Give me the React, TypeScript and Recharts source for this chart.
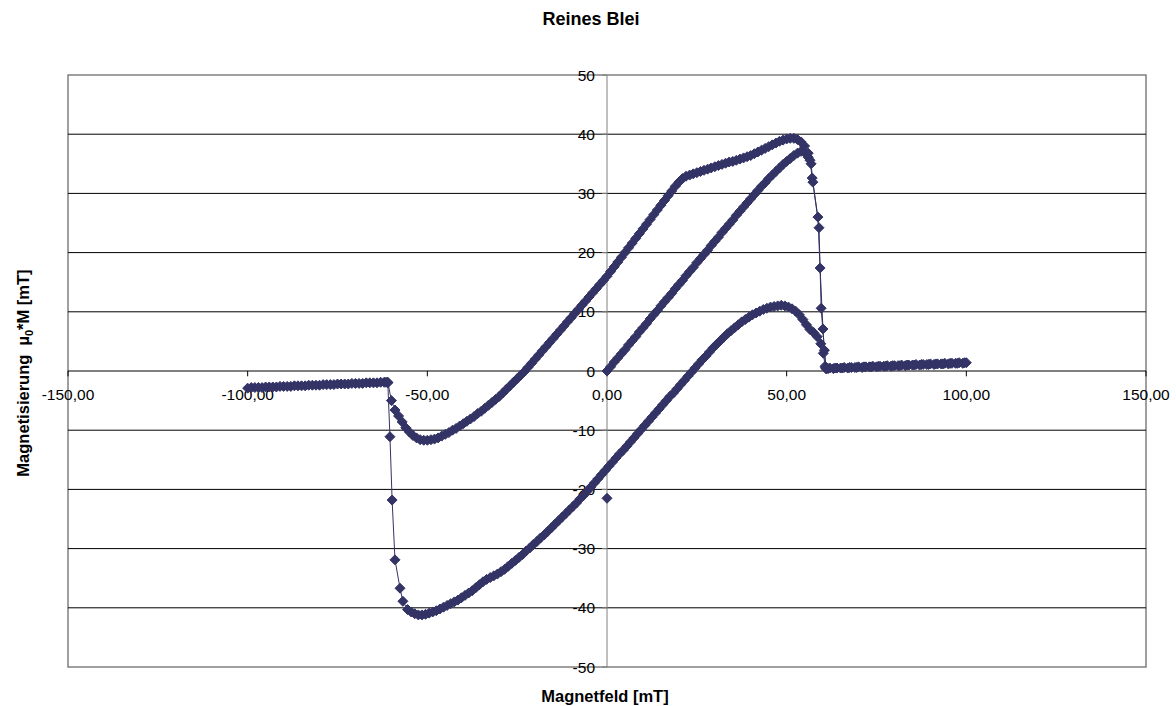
import { ReferenceArea, ReferenceLine, Scatter, ScatterChart, XAxis, YAxis } from "recharts";

const NAVY = "#333366";
const FONT = "'Liberation Sans', Arial, sans-serif";

const X_TICKS = [-150, -100, -50, 0, 50, 100, 150];
const Y_TICKS = [-50, -40, -30, -20, -10, 0, 10, 20, 30, 40, 50];
const Y_GRID = [-40, -30, -20, -10, 10, 20, 30, 40];

// Neukurve 0 -> 61 mT
const VIRGIN: [number, number][] = [
  [0, 0], [1, 0.7], [2, 1.5], [3, 2.2], [4, 2.9], [5, 3.6], [6, 4.4], [7, 5.1], [8, 5.8], [9, 6.6],
  [10, 7.3], [11, 8.0], [12, 8.8], [13, 9.5], [14, 10.2], [15, 11.0], [16, 11.7], [17, 12.4], [18, 13.1], [19, 13.9],
  [20, 14.6], [21, 15.3], [22, 16.1], [23, 16.8], [24, 17.5], [25, 18.3], [26, 19.0], [27, 19.7], [28, 20.4], [29, 21.2],
  [30, 21.9], [31, 22.6], [32, 23.4], [33, 24.1], [34, 24.8], [35, 25.5], [36, 26.3], [37, 27.0], [38, 27.7], [39, 28.4],
  [40, 29.1], [41, 29.8], [42, 30.5], [43, 31.2], [44, 31.8], [45, 32.5], [46, 33.1], [47, 33.7], [48, 34.3], [49, 34.9],
  [50, 35.4], [51, 35.9], [52, 36.4], [53, 36.8], [54, 37.1], [55, 36.9], [56, 36.1], [56.5, 35.6], [57.1, 32.6],
  [58.7, 26.0], [59.3, 17.4], [60.1, 7.1], [60.8, 0.6],
];

const FLAT_UP_1: [number, number][] = [
  [62, 0.5], [64, 0.5], [66, 0.6], [68, 0.6], [70, 0.7], [72, 0.7], [74, 0.8], [76, 0.8], [78, 0.9], [80, 0.9],
  [82, 1.0], [84, 1.0], [86, 1.1], [88, 1.1], [90, 1.2], [92, 1.2], [94, 1.3], [96, 1.3], [98, 1.4], [100, 1.4],
];

const FLAT_DOWN: [number, number][] = [
  [99, 1.3], [97, 1.3], [95, 1.2], [93, 1.2], [91, 1.1], [89, 1.1], [87, 1.0], [85, 1.0], [83, 0.9], [81, 0.9],
  [79, 0.8], [77, 0.8], [75, 0.7], [73, 0.7], [71, 0.6], [69, 0.6], [67, 0.5], [65, 0.5], [63, 0.4], [61, 0.4],
];

// abnehmendes Feld 61 -> -61 mT
const LOWER: [number, number][] = [
  [60.7, 0.8], [60.2, 3.0], [59.5, 4.6], [58.5, 5.8], [57.5, 6.5], [56.5, 7.0], [55.5, 7.8], [54.5, 8.7], [53.5, 9.5],
  [52.5, 10.1], [51.5, 10.5], [50.5, 10.8], [49.5, 11.0], [48.5, 11.1], [47.5, 11.0], [46.5, 10.9], [45.5, 10.8],
  [44.5, 10.6], [43.5, 10.4], [42.5, 10.1], [41.5, 9.8], [40.5, 9.5], [39.5, 9.1], [38.5, 8.7], [37.5, 8.3],
  [36.5, 7.8], [35.5, 7.3], [34.5, 6.8], [33.5, 6.3], [32.5, 5.7], [31.5, 5.1], [30.5, 4.5], [29.5, 3.9],
  [28.5, 3.2], [27.5, 2.5], [26.5, 1.9], [25.5, 1.2], [24.5, 0.5], [23.5, -0.2], [22.5, -0.9], [21.5, -1.6],
  [20.5, -2.3], [19.5, -3.0], [18.5, -3.7], [17.5, -4.3], [16.5, -5.0], [15.5, -5.7], [14.5, -6.4], [13.5, -7.1],
  [12.5, -7.8], [11.5, -8.5], [10.5, -9.2], [9.5, -9.9], [8.5, -10.6], [7.5, -11.3], [6.5, -12.0], [5.5, -12.7],
  [4.5, -13.4], [3.5, -14.0], [2.5, -14.7], [1.5, -15.4], [0.5, -16.1], [-0.5, -16.8], [-1.5, -17.5],
  [-2.5, -18.2], [-3.5, -18.9], [-4.5, -19.6], [-5.5, -20.3], [-6.5, -21.0], [-7.5, -21.6], [-8.5, -22.3],
  [-9.5, -22.9], [-10.5, -23.5], [-11.5, -24.1], [-12.5, -24.7], [-13.5, -25.3], [-14.5, -25.9], [-15.5, -26.5],
  [-16.5, -27.1], [-17.5, -27.7], [-18.5, -28.2], [-19.5, -28.8], [-20.5, -29.3], [-21.5, -29.9], [-22.5, -30.4],
  [-23.5, -31.0], [-24.5, -31.5], [-25.5, -32.0], [-26.5, -32.5], [-27.5, -33.0], [-28.5, -33.5], [-29.5, -33.9],
  [-30.5, -34.3], [-31.5, -34.6], [-32.5, -34.9], [-33.5, -35.2], [-34.5, -35.6], [-35.5, -36.1], [-36.5, -36.6],
  [-37.5, -37.1], [-38.5, -37.5], [-39.5, -37.9], [-40.5, -38.3], [-41.5, -38.7], [-42.5, -39.0], [-43.5, -39.3],
  [-44.5, -39.6], [-45.5, -39.9], [-46.5, -40.2], [-47.5, -40.5], [-48.5, -40.7], [-49.5, -40.9], [-50.5, -41.1],
  [-51.5, -41.2], [-52.5, -41.2], [-53.5, -41.0], [-54.5, -40.7], [-55.5, -40.3], [-56.8, -38.9], [-57.6, -36.7],
  [-59.0, -31.9], [-59.8, -21.8], [-60.4, -11.1], [-61.0, -2.0],
];

const NEG_FLAT_DOWN: [number, number][] = [
  [-62, -1.9], [-64, -2.0], [-66, -2.0], [-68, -2.1], [-70, -2.1], [-72, -2.2], [-74, -2.2], [-76, -2.3],
  [-78, -2.3], [-80, -2.4], [-82, -2.4], [-84, -2.5], [-86, -2.5], [-88, -2.6], [-90, -2.6], [-92, -2.7],
  [-94, -2.7], [-96, -2.8], [-98, -2.8], [-100, -2.9],
];

const NEG_FLAT_UP: [number, number][] = [
  [-99, -2.8], [-97, -2.8], [-95, -2.7], [-93, -2.7], [-91, -2.6], [-89, -2.6], [-87, -2.5], [-85, -2.5],
  [-83, -2.4], [-81, -2.4], [-79, -2.3], [-77, -2.3], [-75, -2.2], [-73, -2.2], [-71, -2.1], [-69, -2.1],
  [-67, -2.0], [-65, -2.0], [-63, -1.9], [-61.5, -1.9],
];

// zunehmendes Feld -61 -> 61 mT
const UPPER: [number, number][] = [
  [-61, -1.9], [-60, -5.0], [-59, -6.6], [-58, -7.6], [-57, -8.6], [-56, -9.6], [-55, -10.3], [-54, -10.9],
  [-53, -11.3], [-52, -11.6], [-51, -11.7], [-50, -11.7], [-49, -11.6], [-48, -11.5], [-47, -11.3], [-46, -11.0],
  [-45, -10.7], [-44, -10.4], [-43, -10.0], [-42, -9.7], [-41, -9.3], [-40, -8.9], [-39, -8.5], [-38, -8.1],
  [-37, -7.7], [-36, -7.2], [-35, -6.8], [-34, -6.3], [-33, -5.8], [-32, -5.3], [-31, -4.8], [-30, -4.3],
  [-29, -3.7], [-28, -3.1], [-27, -2.5], [-26, -1.9], [-25, -1.3], [-24, -0.7], [-23, -0.1], [-22, 0.6],
  [-21, 1.3], [-20, 2.0], [-19, 2.7], [-18, 3.4], [-17, 4.1], [-16, 4.8], [-15, 5.5], [-14, 6.2], [-13, 6.9],
  [-12, 7.6], [-11, 8.3], [-10, 9.0], [-9, 9.7], [-8, 10.4], [-7, 11.1], [-6, 11.8], [-5, 12.5], [-4, 13.2],
  [-3, 13.9], [-2, 14.6], [-1, 15.3], [0, 16.0], [1, 16.8], [2, 17.6], [3, 18.4], [4, 19.2], [5, 20.0],
  [6, 20.8], [7, 21.6], [8, 22.4], [9, 23.2], [10, 24.0], [11, 24.8], [12, 25.6], [13, 26.4], [14, 27.2],
  [15, 28.0], [16, 28.8], [17, 29.6], [18, 30.4], [19, 31.2], [20, 31.9], [21, 32.5], [22, 32.9], [23, 33.1],
  [24, 33.3], [25, 33.5], [26, 33.7], [27, 33.9], [28, 34.1], [29, 34.3], [30, 34.5], [31, 34.7], [32, 34.9],
  [33, 35.1], [34, 35.3], [35, 35.4], [36, 35.6], [37, 35.8], [38, 36.0], [39, 36.2], [40, 36.4], [41, 36.7],
  [42, 37.0], [43, 37.3], [44, 37.6], [45, 37.9], [46, 38.2], [47, 38.5], [48, 38.8], [49, 39.0], [50, 39.2],
  [51, 39.3], [52, 39.3], [53, 39.1], [54, 38.7], [55, 38.0], [56, 36.8], [56.8, 35.0], [57.3, 31.9],
  [59.0, 24.2], [59.6, 10.6], [60.5, 3.5], [61.0, 0.4],
];

const FLAT_UP_2: [number, number][] = [
  [61.5, 0.4], [63.5, 0.5], [65.5, 0.5], [67.5, 0.6], [69.5, 0.6], [71.5, 0.7], [73.5, 0.7], [75.5, 0.8],
  [77.5, 0.8], [79.5, 0.9], [81.5, 0.9], [83.5, 1.0], [85.5, 1.0], [87.5, 1.1], [89.5, 1.1], [91.5, 1.2],
  [93.5, 1.2], [95.5, 1.3], [97.5, 1.3], [99.5, 1.4],
];

const STRAY: [number, number][] = [[0, -21.5]];

const toPts = (arr: [number, number][]) => arr.map(([x, y]) => ({ x, y }));

const loop = toPts([
  ...VIRGIN,
  ...FLAT_UP_1,
  ...FLAT_DOWN,
  ...LOWER,
  ...NEG_FLAT_DOWN,
  ...NEG_FLAT_UP,
  ...UPPER,
  ...FLAT_UP_2,
]);

const fmtX = (v: number) => v.toFixed(2).replace(".", ",");

const xLabelPts = X_TICKS.map((t) => ({ x: t, y: 0, label: fmtX(t) }));
const yLabelPts = Y_TICKS.map((t) => ({ x: 0, y: t, label: String(t) }));

function Diamond(props: any) {
  const { cx, cy } = props;
  if (cx == null || cy == null) return null;
  const r = 5;
  return (
    <path
      d={`M${cx},${cy - r}L${cx + r},${cy}L${cx},${cy + r}L${cx - r},${cy}Z`}
      fill={NAVY}
      stroke={NAVY}
      strokeWidth={1}
      strokeLinejoin="round"
    />
  );
}

function XLabel(props: any) {
  const { cx, cy, payload } = props;
  return (
    <text x={cx} y={cy + 29} textAnchor="middle" fontSize={15.5} fontFamily={FONT} fill="#000">
      {payload.label}
    </text>
  );
}

function YLabel(props: any) {
  const { cx, cy, payload } = props;
  return (
    <text x={cx - 12} y={cy + 5.5} textAnchor="end" fontSize={15.5} fontFamily={FONT} fill="#000">
      {payload.label}
    </text>
  );
}

export default function App() {
  return (
    <div style={{ position: "absolute", left: 0, top: 0, width: 1176, height: 706, background: "#fff" }}>
      <svg
        width={1176}
        height={706}
        style={{ position: "absolute", left: 0, top: 0, pointerEvents: "none" }}
      >
        <text x={591} y={25} textAnchor="middle" fontSize={18} fontWeight="bold" fontFamily={FONT}>
          Reines Blei
        </text>
        <text x={605} y={702} textAnchor="middle" fontSize={16.5} fontWeight="bold" fontFamily={FONT}>
          Magnetfeld [mT]
        </text>
        <text
          transform="translate(29,373) rotate(-90)"
          textAnchor="middle"
          fontSize={16.5}
          fontWeight="bold"
          fontFamily={FONT}
        >
          Magnetisierung{"\u00a0\u00a0"}µ<tspan fontSize={11} dy={4}>0</tspan>
          <tspan dy={-4}>*M [mT]</tspan>
        </text>
      </svg>
      <ScatterChart
        width={1176}
        height={706}
        margin={{ top: 75, right: 30, bottom: 39, left: 68 }}
      >
        <XAxis type="number" dataKey="x" domain={[-150, 150]} ticks={X_TICKS} hide />
        <YAxis type="number" dataKey="y" domain={[-50, 50]} ticks={Y_TICKS} hide />
        <ReferenceArea x1={-150} x2={150} y1={-50} y2={50} fill="none" stroke="#808080" strokeWidth={1.5} />
        {Y_GRID.map((v) => (
          <ReferenceLine key={`g${v}`} y={v} stroke="#000" strokeWidth={1} />
        ))}
        <ReferenceLine y={0} stroke="#000" strokeWidth={1} />
        <ReferenceLine x={0} stroke="#808080" strokeWidth={1} />
        {X_TICKS.map((t) => (
          <ReferenceLine
            key={`xt${t}`}
            segment={[{ x: t, y: 0 }, { x: t, y: -0.9 }]}
            stroke="#000"
          />
        ))}
        {Y_TICKS.map((t) => (
          <ReferenceLine
            key={`yt${t}`}
            segment={[{ x: 0, y: t }, { x: -1.4, y: t }]}
            stroke="#808080"
          />
        ))}
        <Scatter data={xLabelPts} shape={<XLabel />} isAnimationActive={false} />
        <Scatter data={yLabelPts} shape={<YLabel />} isAnimationActive={false} />
        <Scatter
          data={loop}
          line={{ stroke: NAVY, strokeWidth: 1 }}
          lineType="joint"
          shape={<Diamond />}
          isAnimationActive={false}
        />
        <Scatter data={toPts(STRAY)} shape={<Diamond />} isAnimationActive={false} />
      </ScatterChart>
    </div>
  );
}
